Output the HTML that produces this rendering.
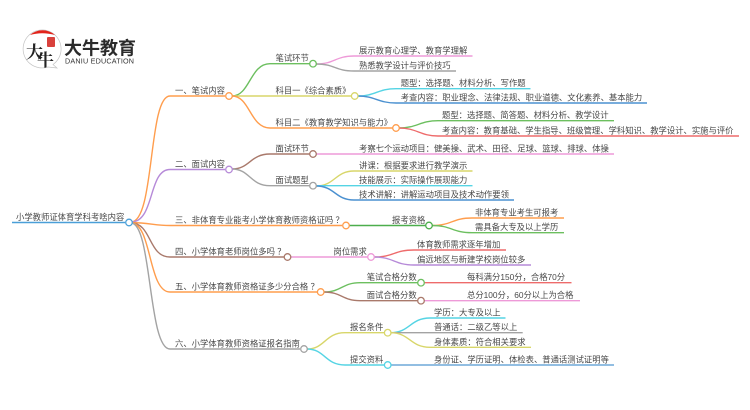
<!DOCTYPE html>
<html><head><meta charset="utf-8">
<style>
html,body{margin:0;padding:0;background:#fff;width:750px;height:410px;overflow:hidden}
svg{display:block;filter:blur(.3px)}
text{font-family:"Liberation Sans","Noto Sans CJK SC","WenQuanYi Zen Hei",sans-serif;font-size:8.33px;fill:#484848}
path{fill:none;stroke-width:1.4}
circle{fill:#fff;stroke-width:1.3}
path.cap{fill:#e2231a !important;stroke:none !important}
path.ring{fill:#fff;stroke:#c4c4c4;stroke-width:.7}
rect.seal{fill:#d9413c}
text.logo1{font-family:"Noto Serif CJK SC",serif;font-size:17px;font-weight:bold;fill:#222}
text.brand{font-family:"Noto Sans CJK SC",sans-serif;font-size:18px;font-weight:bold;fill:#2b2b2b}
text.brand2{font-size:7.2px;fill:#333}
</style></head><body>
<svg width="750" height="410" viewBox="0 0 750 410" xmlns="http://www.w3.org/2000/svg">
<!-- logo -->
<path class="ring" d="M48 67 A19 19 0 1 1 53 64.500 L57 68 Z"/>
<path class="cap" d="M30 35 A19 19 0 0 1 55 35 Q42 31.500 30 35 Z"/>
<rect class="seal" x="47" y="37" width="8" height="10" rx="1"/>
<text class="logo1" x="26" y="58">大</text>
<text class="logo1" x="37" y="66">牛</text>
<text class="brand" x="64" y="54.500">大牛教育</text>
<text class="brand2" x="65" y="63.500" textLength="69">DANIU EDUCATION</text>

<!-- root branches -->
<path d="M12 222.500H125" stroke="#4a9fd8"/>
<path d="M131 222 C155 222 148 96 170 96 H225" stroke="#ff9d4d"/>
<path d="M131 222 C155 222 148 169.500 170 169.500 H225" stroke="#b68ad8"/>
<path d="M131 222.500 C150 223 155 225.500 170 225.500 H342" stroke="#ff9d4d"/>
<path d="M131 223 C152 223 148 257 170 257 H284" stroke="#a9796b"/>
<path d="M131 223 C152 223 148 292 170 292 H317" stroke="#ff9d4d"/>
<path d="M131 223 C152 223 148 349 170 349 H300" stroke="#a3a3a3"/>

<!-- branch 1 children -->
<path d="M232 96 C250 96 250 63.700 270 63.700 H310" stroke="#6cbf5f"/>
<path d="M232 96 H351" stroke="#d8d66a"/>
<path d="M232 96 C250 96 250 128 270 128 H393" stroke="#ff9d4d"/>
<!-- branch 2 children -->
<path d="M232 169 C250 169 250 154 270 154 H310" stroke="#a9796b"/>
<path d="M232 169 C250 169 250 185.700 270 185.700 H310" stroke="#a3a3a3"/>
<!-- others -->
<path d="M349 225.500 H426" stroke="#4cae4c"/>
<path d="M290.500 257 H368" stroke="#ee9ad8"/>
<path d="M323.500 292 C342 292 342 282.700 360 282.700 H418" stroke="#6cbf5f"/>
<path d="M323.500 292 C342 292 342 300.700 360 300.700 H418" stroke="#a9796b"/>
<path d="M307 349 C325 349 325 332.700 345 332.700 H385" stroke="#d8d66a"/>
<path d="M307 349 C325 349 325 365 345 365 H385" stroke="#55d4e4"/>

<!-- leaves -->
<path d="M316 64 C335 64 335 56 354 56 H472.500" stroke="#ee9ad8"/>
<path d="M316 64 C335 64 335 71 354 71 H456" stroke="#a3a3a3"/>
<path d="M358 96 C375 96 378 88.700 396 88.700 H530.500" stroke="#55d4e4"/>
<path d="M358 96 C375 96 378 103 396 103 H647" stroke="#4a90d0"/>
<path d="M399 128 C417 128 420 120.700 438 120.700 H614" stroke="#6cbf5f"/>
<path d="M399 128 C417 128 420 136 438 136 H739" stroke="#ee6b6b"/>
<path d="M316 154 H614" stroke="#ee9ad8"/>
<path d="M316 186 C335 186 335 171 354 171 H472.500" stroke="#d8d66a"/>
<path d="M316 185.700 H472.500" stroke="#55d4e4"/>
<path d="M316 186 C335 186 335 200 354 200 H514" stroke="#4a90d0"/>
<path d="M432 225.500 C452 225.500 452 218 472 218 H564" stroke="#ff9d4d"/>
<path d="M432 225.500 C452 225.500 452 232.700 472 232.700 H564" stroke="#6cbf5f"/>
<path d="M374 257 C394 257 394 250 414 250 H506" stroke="#ee6b6b"/>
<path d="M374 257 C394 257 394 265 414 265 H531" stroke="#b68ad8"/>
<path d="M424 282.700 H571.500" stroke="#ee6b6b"/>
<path d="M424 300.700 H580" stroke="#ee9ad8"/>
<path d="M390.500 332.700 C410 332.700 410 318 430 318 H505.500" stroke="#55d4e4"/>
<path d="M390.500 332.700 H522.700" stroke="#a3a3a3"/>
<path d="M390.500 332.700 C410 332.700 410 347.300 430 347.300 H531" stroke="#d8d66a"/>
<path d="M390.500 365 H614" stroke="#6ea8d8"/>

<!-- nodes -->
<circle cx="129" cy="222.500" r="3.300" stroke="#4a9fd8"/>
<circle cx="229" cy="96" r="3.300" stroke="#ff9d4d"/>
<circle cx="229" cy="169.500" r="3.300" stroke="#b68ad8"/>
<circle cx="346" cy="225.500" r="3.300" stroke="#ff9d4d"/>
<circle cx="287.500" cy="257" r="3.300" stroke="#a9796b"/>
<circle cx="320.700" cy="292" r="3.300" stroke="#ff9d4d"/>
<circle cx="304" cy="349" r="3.300" stroke="#a3a3a3"/>
<circle cx="313" cy="63.700" r="3.300" stroke="#6cbf5f"/>
<circle cx="354.700" cy="96" r="3.300" stroke="#d8d66a"/>
<circle cx="396" cy="128" r="3.300" stroke="#ff9d4d"/>
<circle cx="313" cy="154" r="3.300" stroke="#a9796b"/>
<circle cx="313" cy="185.700" r="3.300" stroke="#a3a3a3"/>
<circle cx="429" cy="225.500" r="3.300" stroke="#4cae4c"/>
<circle cx="371" cy="257" r="3.300" stroke="#ee9ad8"/>
<circle cx="421" cy="282.700" r="3.300" stroke="#6cbf5f"/>
<circle cx="421" cy="300.700" r="3.300" stroke="#a9796b"/>
<circle cx="387.700" cy="332.700" r="3.300" stroke="#d8d66a"/>
<circle cx="387.700" cy="365" r="3.300" stroke="#55d4e4"/>

<!-- text -->
<text x="16" y="220">小学教师证体育学科考啥内容</text>
<text x="175" y="93.500">一、笔试内容</text>
<text x="175" y="167">二、面试内容</text>
<text x="175" y="223">三、非体育专业能考小学体育教师资格证吗 ？</text>
<text x="175" y="254.500">四、小学体育老师岗位多吗 ？</text>
<text x="175" y="289.500">五、小学体育教师资格证多少分合格 ？</text>
<text x="175" y="346.500">六、小学体育教师资格证报名指南</text>

<text x="275.500" y="61">笔试环节</text>
<text x="275.500" y="93.500">科目一《综合素质》</text>
<text x="275.500" y="125.500">科目二《教育教学知识与能力》</text>
<text x="275.500" y="151.500">面试环节</text>
<text x="275.500" y="183">面试题型</text>
<text x="392" y="223">报考资格</text>
<text x="333.500" y="254.500">岗位需求</text>
<text x="366.700" y="280">笔试合格分数</text>
<text x="366.700" y="298">面试合格分数</text>
<text x="350" y="330">报名条件</text>
<text x="350" y="362.500">提交资料</text>

<text x="359" y="53.500">展示教育心理学、教育学理解</text>
<text x="359" y="68.500">熟悉教学设计与评价技巧</text>
<text x="400.700" y="86">题型：选择题、材料分析、写作题</text>
<text x="400.700" y="100.500">考查内容：职业理念、法律法规、职业道德、文化素养、基本能力</text>
<text x="442" y="118">题型：选择题、简答题、材料分析、教学设计</text>
<text x="442" y="133.500">考查内容：教育基础、学生指导、班级管理、学科知识、教学设计、实施与评价</text>
<text x="359" y="151.500">考察七个运动项目：健美操、武术、田径、足球、篮球、排球、体操</text>
<text x="359" y="168.500">讲课：根据要求进行教学演示</text>
<text x="359" y="183">技能展示：实际操作展现能力</text>
<text x="359" y="197.500">技术讲解：讲解运动项目及技术动作要领</text>
<text x="475" y="215.500">非体育专业考生可报考</text>
<text x="475" y="230">需具备大专及以上学历</text>
<text x="417" y="247.500">体育教师需求逐年增加</text>
<text x="417" y="262.500">偏远地区与新建学校岗位较多</text>
<text x="467" y="280">每科满分150分，合格70分</text>
<text x="467" y="298">总分100分，60分以上为合格</text>
<text x="434" y="315.500">学历：大专及以上</text>
<text x="434" y="330">普通话：二级乙等以上</text>
<text x="434" y="344.800">身体素质：符合相关要求</text>
<text x="434" y="362.500">身份证、学历证明、体检表、普通话测试证明等</text>
</svg>
</body></html>
